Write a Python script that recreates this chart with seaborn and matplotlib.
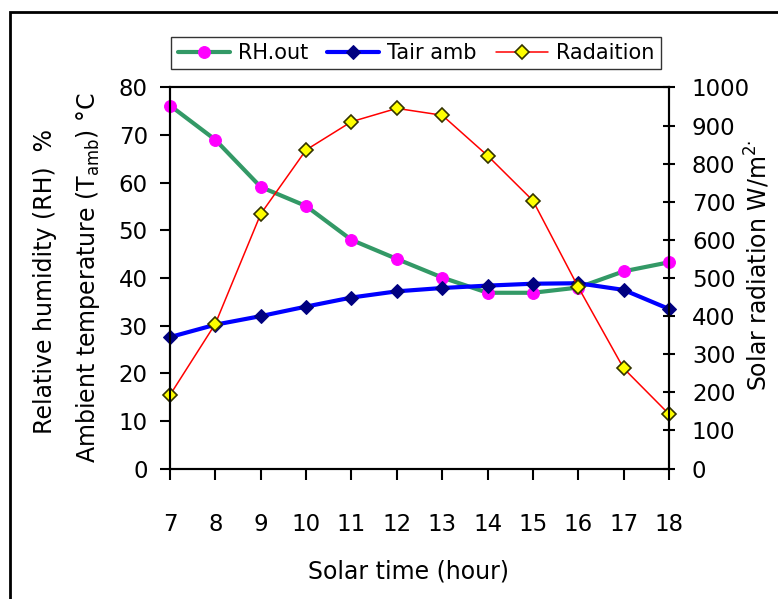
import seaborn as sns
import matplotlib.pyplot as plt
import pandas as pd
from matplotlib.patches import Rectangle

hours = [7, 8, 9, 10, 11, 12, 13, 14, 15, 16, 17, 18]
rh_out = [76.2, 69.0, 59.1, 55.1, 48.0, 44.0, 40.1, 36.9, 36.9, 38.0, 41.4, 43.3]
tair_amb = [27.6, 30.2, 32.0, 34.0, 35.9, 37.2, 37.9, 38.4, 38.8, 38.9, 37.5, 33.5]
radiation = [193, 380, 668, 836, 910, 945, 927, 821, 703, 476, 263, 143]

df = pd.DataFrame({'hour': hours, 'RH.out': rh_out, 'Tair amb': tair_amb, 'Radaition': radiation})

sns.set_style('white')
plt.rcParams['font.family'] = ['DejaVu Sans']
plt.rcParams['text.color'] = 'black'
plt.rcParams['xtick.color'] = 'black'
plt.rcParams['ytick.color'] = 'black'
plt.rcParams['axes.labelcolor'] = 'black'

fig = plt.figure(figsize=(7.78, 5.99), dpi=100)
ax = fig.add_axes([170 / 778, 1 - 468.6 / 599, (669 - 170) / 778, (468.6 - 87.4) / 599])
ax2 = ax.twinx()

sns.lineplot(data=df, x='hour', y='RH.out', ax=ax, color='#339966', linewidth=3,
             marker='o', markersize=8.5, markerfacecolor='#FF00FF', markeredgecolor='#FF00FF',
             label='RH.out', clip_on=False, legend=False)
sns.lineplot(data=df, x='hour', y='Tair amb', ax=ax, color='#0000FF', linewidth=3,
             marker='D', markersize=7, markerfacecolor='#000080', markeredgecolor='#000080',
             label='Tair amb', clip_on=False, legend=False)
sns.lineplot(data=df, x='hour', y='Radaition', ax=ax2, color='#FF0000', linewidth=1.1,
             marker='D', markersize=7, markerfacecolor='#FFFF00', markeredgecolor='#333300',
             markeredgewidth=1.2, label='Radaition', clip_on=False, legend=False)

ax.set_xlim(7, 18)
ax.set_ylim(0, 80)
ax2.set_ylim(0, 1000)
ax.set_xticks(hours)
ax.set_yticks(range(0, 81, 10))
ax2.set_yticks(range(0, 1001, 100))
ax.set_xlabel('')
ax.set_ylabel('')
ax2.set_ylabel('')

for a in (ax, ax2):
    for s in a.spines.values():
        s.set_color('black')
        s.set_linewidth(1.5)

ax.tick_params(axis='y', direction='out', length=7, width=1.5, pad=9, labelsize=16.5,
               left=True, colors='black')
ax.tick_params(axis='x', direction='out', length=8, width=1.5, pad=24, labelsize=16.5,
               bottom=True, colors='black')
ax2.tick_params(axis='y', direction='inout', length=9, width=1.5, pad=12, labelsize=16.5,
                right=True, colors='black')

fig.text(45 / 778, 1 - 281 / 599, 'Relative humidity (RH)  %', rotation=90,
         ha='center', va='center', fontsize=17, color='black')
fig.text(88 / 778, 1 - 278 / 599, 'Ambient temperature (T$_{\\mathregular{amb}}$) \u00b0C', rotation=90,
         ha='center', va='center', fontsize=17, color='black')
fig.text(757 / 778, 1 - 265 / 599, 'Solar radiation W/m$^{\\mathregular{2\u00b7}}$', rotation=90,
         ha='center', va='center', fontsize=17, color='black')
fig.text(408 / 778, 1 - 572 / 599, 'Solar time (hour)', ha='center', va='center',
         fontsize=17, color='black')

h1, l1 = ax.get_legend_handles_labels()
h2, l2 = ax2.get_legend_handles_labels()
leg = fig.legend(h1 + h2, l1 + l2, loc='center', bbox_to_anchor=(416 / 778, 1 - 53 / 599),
                 ncol=3, fontsize=15, frameon=True, fancybox=False, handlelength=2.5,
                 handletextpad=0.4, columnspacing=0.9, borderpad=0.3, borderaxespad=0)
leg.get_frame().set_edgecolor('black')
leg.get_frame().set_linewidth(1)
for t in leg.get_texts():
    t.set_color('black')

fig.patches.append(Rectangle((10 / 778, -0.1), 1.2, 1.1 - 12 / 599, transform=fig.transFigure,
                             fill=False, edgecolor='black', linewidth=2, clip_on=False))

fig.savefig('out.png', dpi=100)
